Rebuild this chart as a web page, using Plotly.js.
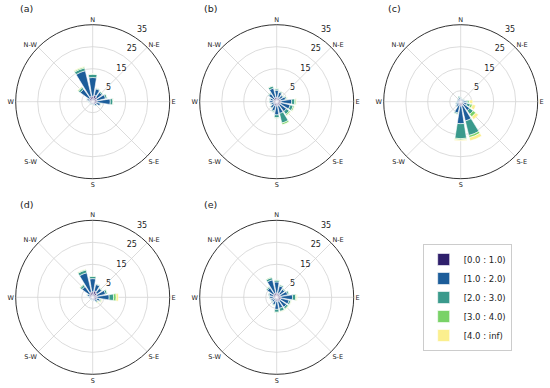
<!DOCTYPE html>
<html>
<head>
<meta charset="utf-8">
<script src="https://cdn.plot.ly/plotly-3.0.1.min.js"></script>
<style>html,body{margin:0;padding:0;background:#fff;}#chart{width:550px;height:388px;}</style>
</head>
<body>
<div id="chart"></div>
<script>
// 16 sectors, clockwise from North
var directions = [0, 22.5, 45, 67.5, 90, 112.5, 135, 157.5, 180, 202.5, 225, 247.5, 270, 292.5, 315, 337.5];
var binNames = ["[0.0 : 1.0)", "[1.0 : 2.0)", "[2.0 : 3.0)", "[3.0 : 4.0)", "[4.0 : inf)"];
var compassVals = [0, 45, 90, 135, 180, 225, 270, 315];
var compassText = ["N", "N-E", "E", "S-E", "S", "S-W", "W", "N-W"];
var radialTicks = [5, 15, 25, 35];
var panelLabels = ["(a)", "(b)", "(c)", "(d)", "(e)"];

// panel (a)
var a0 = [2.5, 3.0, 2.5, 2.0, 2.0, 1.8, 1.5, 1.2, 1.0, 1.0, 1.0, 1.0, 1.2, 1.5, 2.0, 2.5];
var a1 = [8.5, 3.0, 2.8, 4.0, 6.0, 1.8, 0.8, 0.6, 0.4, 0.4, 0.4, 0.4, 0.6, 1.2, 5.0, 12.0];
var a2 = [1.5, 0.4, 0.5, 0.8, 1.2, 0.3, 0.2, 0.1, 0.1, 0.1, 0.1, 0.1, 0.2, 0.3, 1.0, 1.3];
var a3 = [0.2, 0.1, 0.1, 0.1, 0.2, 0.1, 0.0, 0.0, 0.0, 0.0, 0.0, 0.0, 0.0, 0.1, 0.4, 0.5];
var a4 = [0.1, 0.0, 0.0, 0.0, 0.1, 0.0, 0.0, 0.0, 0.0, 0.0, 0.0, 0.0, 0.0, 0.0, 0.2, 0.3];
// panel (b)
var b0 = [2.0, 2.0, 1.8, 1.8, 2.0, 2.0, 2.0, 2.0, 2.0, 1.8, 1.5, 1.3, 1.5, 1.5, 1.8, 2.0];
var b1 = [3.2, 2.4, 1.7, 2.4, 4.8, 4.3, 3.5, 3.5, 4.0, 2.5, 2.0, 1.4, 1.7, 1.6, 2.7, 4.3];
var b2 = [0.6, 0.5, 0.4, 0.6, 1.4, 1.4, 1.6, 4.5, 1.3, 0.6, 0.4, 0.3, 0.3, 0.4, 0.4, 1.0];
var b3 = [0.2, 0.1, 0.1, 0.2, 0.6, 0.6, 0.6, 0.8, 0.2, 0.1, 0.1, 0.0, 0.0, 0.0, 0.1, 0.2];
var b4 = [0.0, 0.0, 0.0, 0.1, 0.2, 0.2, 0.3, 0.2, 0.0, 0.0, 0.0, 0.0, 0.0, 0.0, 0.0, 0.0];
// panel (c)
var c0 = [1.0, 0.8, 0.8, 1.0, 1.0, 1.0, 1.5, 2.0, 2.0, 1.5, 1.2, 1.0, 1.0, 1.0, 1.0, 1.2];
var c1 = [0.7, 0.5, 0.5, 0.6, 1.5, 2.0, 3.5, 7.0, 8.0, 3.8, 1.5, 1.2, 0.8, 0.6, 0.6, 0.8];
var c2 = [0.3, 0.2, 0.2, 0.3, 0.8, 1.5, 2.0, 6.8, 6.8, 0.6, 0.3, 0.3, 0.2, 0.2, 0.2, 0.5];
var c3 = [0.0, 0.0, 0.0, 0.1, 0.7, 1.0, 1.5, 1.0, 0.6, 0.1, 0.0, 0.0, 0.0, 0.0, 0.0, 0.0];
var c4 = [0.0, 0.0, 0.0, 0.0, 1.5, 1.5, 1.5, 1.5, 0.4, 0.0, 0.0, 0.0, 0.0, 0.0, 0.0, 0.0];
// panel (d)
var d0 = [2.5, 3.0, 2.5, 2.0, 2.0, 1.8, 1.5, 1.2, 1.0, 1.0, 1.0, 1.0, 1.2, 1.5, 2.0, 2.5];
var d1 = [6.0, 3.0, 2.5, 4.0, 5.5, 1.5, 1.0, 0.6, 0.4, 0.4, 0.4, 0.4, 0.6, 1.1, 4.0, 9.0];
var d2 = [1.0, 0.4, 0.4, 0.8, 2.0, 0.5, 0.4, 0.1, 0.1, 0.1, 0.1, 0.1, 0.2, 0.3, 1.0, 1.3];
var d3 = [0.2, 0.1, 0.1, 0.2, 1.2, 0.4, 0.3, 0.0, 0.0, 0.0, 0.0, 0.0, 0.0, 0.1, 0.4, 0.4];
var d4 = [0.0, 0.0, 0.0, 0.0, 1.0, 0.3, 0.3, 0.0, 0.0, 0.0, 0.0, 0.0, 0.0, 0.0, 0.1, 0.1];
// panel (e)
var e0 = [2.0, 2.0, 1.8, 1.8, 2.0, 2.0, 2.0, 2.0, 2.0, 1.6, 1.3, 1.3, 1.5, 1.6, 2.0, 2.0];
var e1 = [5.0, 3.3, 2.6, 3.3, 5.2, 3.8, 3.5, 3.2, 3.5, 1.9, 1.4, 1.4, 1.7, 2.0, 3.3, 6.2];
var e2 = [0.8, 0.6, 0.5, 0.7, 1.4, 0.8, 0.9, 1.4, 1.3, 0.4, 0.3, 0.3, 0.3, 0.4, 0.6, 1.0];
var e3 = [0.2, 0.1, 0.1, 0.2, 0.5, 0.3, 0.4, 0.3, 0.2, 0.1, 0.0, 0.0, 0.0, 0.0, 0.1, 0.3];
var e4 = [0.0, 0.0, 0.0, 0.0, 0.3, 0.1, 0.2, 0.1, 0.0, 0.0, 0.0, 0.0, 0.0, 0.0, 0.0, 0.0];

var panels = [[a0, a1, a2, a3, a4], [b0, b1, b2, b3, b4], [c0, c1, c2, c3, c4], [d0, d1, d2, d3, d4], [e0, e1, e2, e3, e4]];
var colors = ["#2e1f6b", "#1c5d9a", "#3a9a8c", "#79d267", "#fbef8e"];

var W = 550, H = 388, R = 77;
var rMax = 35, labelPad = 4;           // radial labels sit a little beyond their ring (matplotlib style)
var R2 = R * (rMax + labelPad) / rMax;  // radius of the label-only overlay subplot
var centers = [[92.7, 101.7], [276.7, 101.7], [460.7, 101.7], [92.7, 297.3], [276.7, 297.3]];

function dom(cx, cy, rad) {
  return {x: [(cx - rad) / W, (cx + rad) / W], y: [1 - (cy + rad) / H, 1 - (cy - rad) / H]};
}

var data = [];
var layout = {
  width: W, height: H,
  margin: {l: 0, r: 0, t: 0, b: 0},
  paper_bgcolor: "white",
  font: {family: "DejaVu Sans", color: "#222"},
  showlegend: true,
  legend: {
    x: 0.7685, y: 1 - 297.5 / H, xanchor: "left", yanchor: "middle",
    bordercolor: "#cccccc", borderwidth: 1, bgcolor: "white",
    tracegroupgap: 0,
    font: {size: 8.5, family: "DejaVu Sans", color: "#222"}
  },
  annotations: []
};

panels.forEach(function (bins, p) {
  var key = p === 0 ? "polar" : "polar" + (p + 1);
  bins.forEach(function (vals, b) {
    data.push({
      type: "barpolar",
      subplot: key,
      r: vals,
      theta: directions,
      width: 18,
      name: binNames[b],
      showlegend: p === 0,
      marker: {color: colors[b], line: {color: "white", width: 0.6}},
      hoverinfo: "r+theta+name"
    });
  });
  var cx = centers[p][0], cy = centers[p][1];
  layout[key] = {
    domain: dom(cx, cy, R),
    bgcolor: "white",
    barmode: "stack",
    angularaxis: {
      rotation: 90, direction: "clockwise",
      tickmode: "array", tickvals: compassVals, ticktext: compassText,
      ticks: "", showline: true, linecolor: "#333", linewidth: 1,
      gridcolor: "#d3d3d3", gridwidth: 0.8,
      tickfont: {size: 6.5, family: "DejaVu Sans", color: "#222"}
    },
    radialaxis: {
      range: [0, rMax], tickmode: "array", tickvals: radialTicks,
      showticklabels: false, showline: false, ticks: "", angle: 62,
      gridcolor: "#d3d3d3", gridwidth: 0.8
    }
  };
  // label-only overlay carrying the radial tick labels
  var lkey = "polar" + (p + 6);
  data.push({type: "barpolar", subplot: lkey, r: [], theta: [], showlegend: false, hoverinfo: "skip"});
  layout[lkey] = {
    domain: dom(cx, cy, R2),
    bgcolor: "rgba(0,0,0,0)",
    angularaxis: {visible: false, rotation: 90, direction: "clockwise"},
    radialaxis: {
      range: [-labelPad, rMax], tickmode: "array", tickvals: radialTicks,
      showgrid: false, showline: false, ticks: "", angle: 62, tickangle: 62,
      tickfont: {size: 8, family: "DejaVu Sans", color: "#222"}
    }
  };
  layout.annotations.push({
    text: panelLabels[p], xref: "paper", yref: "paper",
    x: (cx - 75) / W, y: 1 - (cy - 93) / H, xanchor: "left", yanchor: "middle",
    showarrow: false, font: {size: 9.5, family: "DejaVu Sans", color: "#222"}
  });
});

Plotly.newPlot("chart", data, layout, {displayModeBar: false, staticPlot: true});
</script>
</body>
</html>
